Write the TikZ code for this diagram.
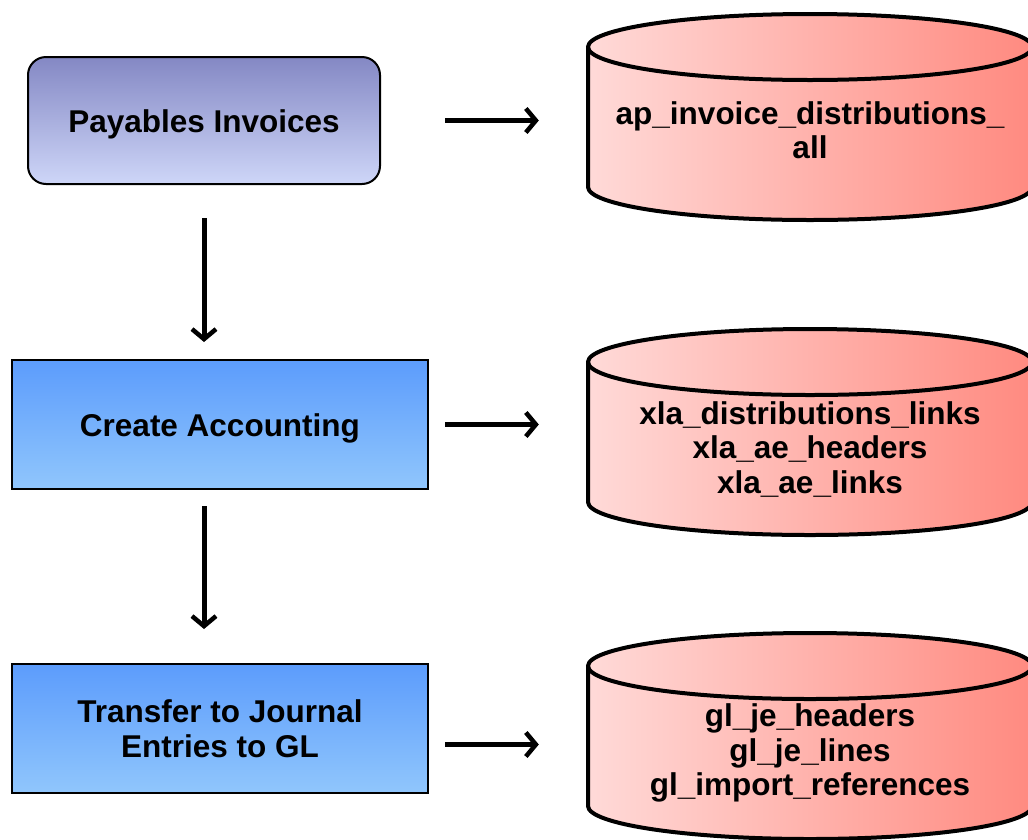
\documentclass[tikz,border=0pt]{standalone}
\usepackage{fontspec}
\setmainfont{Liberation Sans}
\usetikzlibrary{arrows.meta}

\definecolor{invTop}{RGB}{132,136,196}
\definecolor{invBot}{RGB}{206,214,248}
\definecolor{stepTop}{RGB}{92,156,252}
\definecolor{stepBot}{RGB}{144,198,252}
\definecolor{dbLeft}{RGB}{255,218,216}
\definecolor{dbRight}{RGB}{255,138,128}

% database drum: #1 = centre x, #2 = y of the top ellipse centre
\newcommand\dbdrum[2]{%
  \shade[dbfill] (#1-222,#2) -- (#1-222,#2-140)
    arc[start angle=180,end angle=360,x radius=222,y radius=33]
    -- (#1+222,#2)
    arc[start angle=0,end angle=180,x radius=222,y radius=33] -- cycle;
  \draw[dbline] (#1-222,#2) -- (#1-222,#2-140)
    arc[start angle=180,end angle=360,x radius=222,y radius=33]
    -- (#1+222,#2)
    arc[start angle=0,end angle=180,x radius=222,y radius=33] -- cycle;
  \draw[dbline] (#1-222,#2)
    arc[start angle=180,end angle=360,x radius=222,y radius=33];
}

\begin{document}
\begin{tikzpicture}[x=1pt,y=1pt,
  lbl/.style={font=\bfseries\fontsize{31.5}{34.5}\selectfont,align=center,text=black},
  oneline/.style={text height=23pt,text depth=0pt},
  procbox/.style={lbl,draw=black,line width=2pt,minimum width=416pt,minimum height=129pt,
    top color=stepTop,bottom color=stepBot,inner sep=0pt},
  srcbox/.style={lbl,draw=black,line width=2pt,rounded corners=18pt,minimum width=352pt,
    minimum height=127pt,top color=invTop,bottom color=invBot,inner sep=0pt},
  dbtext/.style={lbl,minimum width=444pt,inner sep=0pt},
  dbfill/.style={left color=dbLeft,right color=dbRight},
  dbline/.style={draw=black,line width=4pt,line join=round},
  flow/.style={draw=black,line width=5pt,-{Straight Barb[length=10pt,width=24pt,line width=4.5pt]}}]

\useasboundingbox (0,0) rectangle (1028,-839);
\begin{scope}
\clip (0,0) rectangle (1028,-839);

% source and processing steps
\node[srcbox,oneline]  (pi) at (204,-120.5) {Payables Invoices};
\node[procbox,oneline] (ca) at (220,-424.5) {Create Accounting};
\node[procbox] (ta) at (220,-728.5) {Transfer to Journal\\Entries to GL};

% tables written by each step
\dbdrum{810}{-47}
\dbdrum{810}{-362}
\dbdrum{810}{-666}
\node[dbtext] (db1) at (810,-130) {ap\_invoice\_distributions\_\\all};
\node[dbtext] (db2) at (810,-449) {xla\_distributions\_links\\xla\_ae\_headers\\xla\_ae\_links};
\node[dbtext] (db3) at (810,-753) {gl\_je\_headers\\gl\_je\_lines\\gl\_import\_references};

% process flow, down the left column
\draw[flow,shorten <=33pt,shorten >=17pt] (pi.south) -- (pi.south |- ca.north);
\draw[flow,shorten <=16pt,shorten >=34pt] (ca.south -| pi.south) -- (ta.north -| pi.south);

% step to table
\draw[flow] ([xshift=64pt]pi.east) -- ([xshift=-49pt]pi.east -| db1.west);
\draw[flow] ([xshift=16pt]ca.east) -- ([xshift=-49pt]ca.east -| db2.west);
\draw[flow] ([shift={(16pt,-16pt)}]ta.east) -- ([shift={(-49pt,-16pt)}]ta.east -| db3.west);
\end{scope}
\end{tikzpicture}
\end{document}
